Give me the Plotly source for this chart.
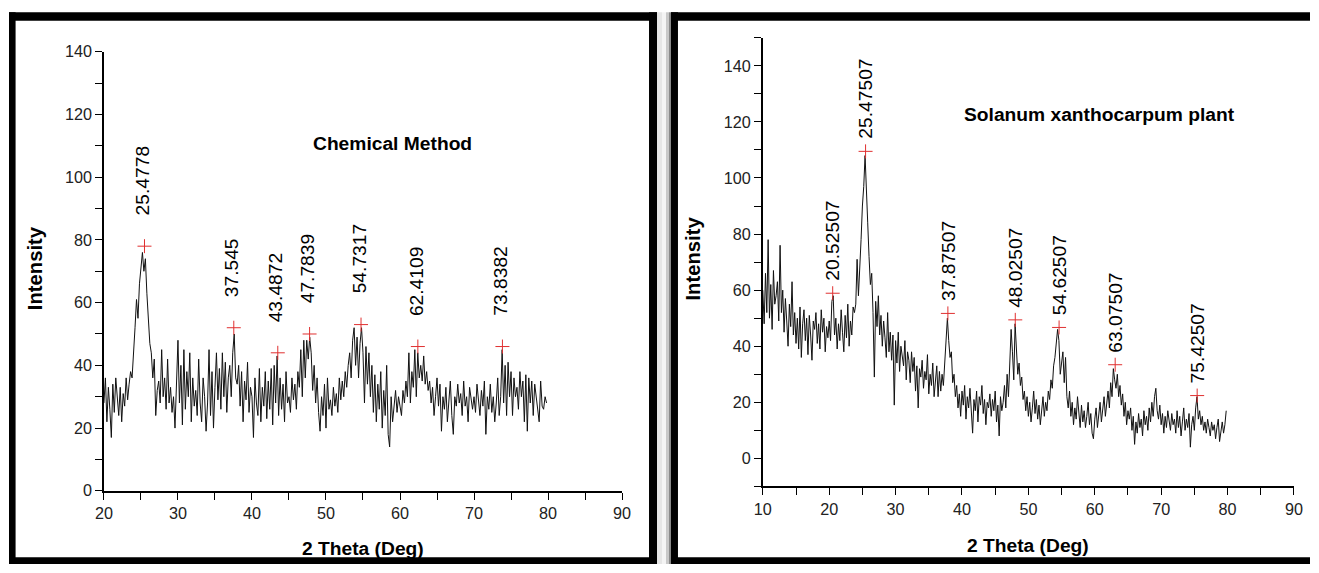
import numpy as np
import plotly.graph_objects as go

# Figure size; the photographed page maps figure pixels to picture pixels as
# pic = (fig + 8) * scale, so layout positions are given in picture pixels and converted.
W, H = 1319, 573
PAD = 8
SX, SY = 1319 / 1335, 573 / 589

# ---------------- data: Chemical Method (left) ----------------
theta_left_start = 20.0
theta_step = 0.2
intensity_left = [
    28, 36, 22, 33, 26, 17, 34, 25, 36, 28,
    24, 33, 22, 31, 27, 36, 29, 34, 38, 36,
    43, 52, 61, 55, 66, 72, 76, 70, 74, 63,
    55, 47, 44, 36, 42, 24, 32, 35, 28, 45,
    30, 36, 26, 42, 28, 33, 25, 30, 20, 34,
    48, 28, 40, 21, 45, 26, 38, 30, 44, 22,
    36, 27, 32, 24, 42, 28, 22, 36, 30, 19,
    28, 45, 24, 38, 20, 33, 44, 29, 39, 26,
    44, 30, 41, 25, 36, 40, 30, 44, 50, 36,
    34, 40, 27, 38, 22, 35, 29, 41, 25, 33,
    30, 17, 36, 28, 24, 39, 22, 33, 27, 38,
    23, 35, 26, 39, 21, 40, 28, 43, 24, 36,
    26, 34, 22, 38, 28, 30, 25, 36, 29, 34,
    26, 38, 33, 45, 30, 48, 36, 48, 42, 49,
    44, 32, 40, 28, 36, 25, 19, 30, 24, 34,
    20, 36, 26, 29, 24, 33, 27, 31, 25, 36,
    29, 35, 30, 38, 33, 40, 44, 36, 48, 52,
    40, 49, 36, 47, 52, 44, 28, 46, 34, 44,
    30, 40, 25, 37, 22, 34, 26, 38, 20, 32,
    24, 40, 18, 14, 30, 22, 28, 32, 25, 30,
    27, 24, 32, 28, 35, 30, 44, 28, 38, 33,
    45, 30, 44, 36, 40, 35, 43, 34, 38, 32,
    35, 28, 33, 24, 30, 36, 27, 34, 19, 30,
    26, 33, 22, 29, 35, 24, 18, 30, 27, 34,
    28, 31, 24, 35, 27, 30, 22, 33, 29, 26,
    30, 25, 34, 28, 24, 32, 27, 35, 18, 30,
    26, 34, 25, 30, 22, 28, 36, 24, 30, 45,
    28, 40, 24, 41, 30, 38, 24, 36, 30, 33,
    26, 38, 30, 35, 22, 37, 19, 36, 28, 35,
    24, 34, 30, 28, 22, 35, 27, 26, 30, 28,
]
peaks_left_pos = [25.4778, 37.545, 43.4872, 47.7839, 54.7317, 62.4109, 73.8382]
peaks_left_val = [78, 52, 44, 50, 53, 46, 46]
peaks_left_lbl = ["25.4778", "37.545", "43.4872", "47.7839", "54.7317", "62.4109", "73.8382"]

# ---------------- data: Solanum xanthocarpum plant (right) ----------------
theta_right_start = 10.0
intensity_right = [
    60, 48, 66, 52, 78, 50, 62, 46, 67, 55,
    58, 63, 49, 76, 52, 60, 45, 57, 49, 40,
    55, 47, 63, 44, 52, 41, 50, 39, 54, 36,
    48, 53, 42, 50, 37, 51, 44, 35, 49, 46,
    52, 41, 48, 39, 53, 45, 50, 38, 47, 43,
    49, 42, 56, 58, 44, 50, 39, 48, 42, 53,
    45, 38, 51, 43, 55, 40, 49, 44, 54, 52,
    55, 71, 58, 66, 78, 90, 97, 108, 92, 84,
    72, 62, 66, 52, 29, 56, 47, 58, 44, 51,
    40, 49, 43, 36, 52, 38, 45, 35, 44, 19,
    42, 34, 45, 31, 40, 36, 33, 42, 28, 38,
    35, 27, 38, 31, 36, 24, 33, 18, 32, 29,
    35, 25, 31, 28, 37, 23, 30, 26, 34, 22,
    28, 33, 22, 31, 24, 30, 26, 35, 45, 50,
    42, 36, 38, 27, 30, 22, 26, 18, 23, 15,
    24, 19, 26, 14, 22, 18, 25, 15, 9, 21,
    17, 24, 13, 22, 19, 26, 16, 21, 12, 20,
    18, 23, 15, 21, 17, 24, 13, 19, 8, 22,
    17, 20, 26, 18, 30, 22, 34, 46, 38, 28,
    48, 40, 30, 34, 26, 29, 21, 24, 17, 22,
    15, 20, 13, 18, 24, 16, 21, 14, 19, 12,
    18, 22, 15, 20, 17, 24, 21, 28, 25, 33,
    36, 40, 46, 42, 30, 34, 38, 27, 36, 22,
    18, 24, 15, 20, 12, 18, 14, 22, 16, 11,
    19, 13, 17, 11, 15, 20, 12, 16, 9, 7,
    14, 18, 11, 16, 20, 13, 18, 22, 15, 21,
    24, 18, 27, 22, 32, 28, 25, 30, 22, 26,
    19, 23, 15, 20, 12, 17, 14, 18, 10, 15,
    5, 13, 9, 16, 11, 14, 8, 17, 12, 15,
    10, 18, 13, 20, 15, 22, 25, 17, 14, 19,
    12, 16, 9, 15, 11, 17, 13, 10, 16, 12,
    14, 9, 17, 11, 15, 8, 13, 18, 10, 14,
    11, 16, 4, 12, 15, 10, 18, 22, 14, 17,
    12, 15, 10, 13, 9, 14, 11, 8, 13, 10,
    12, 7, 11, 14, 6, 10, 13, 9, 12, 17,
]
peaks_right_pos = [20.52507, 25.47507, 37.87507, 48.02507, 54.62507, 63.07507, 75.42507]
peaks_right_val = [58.9, 109.5, 51.7, 49.4, 46.7, 33.4, 22.4]
peaks_right_lbl = ["20.52507", "25.47507", "37.87507", "48.02507", "54.62507", "63.07507", "75.42507"]

title_left = "Chemical Method"
title_right = "Solanum xanthocarpum plant"
x_title = "2 Theta (Deg)"
y_title = "Intensity"

theta_left = theta_left_start + theta_step * np.arange(len(intensity_left))
theta_right = theta_right_start + theta_step * np.arange(len(intensity_right))

FONT = "Liberation Sans, Arial, sans-serif"
K = 1 / SX  # font compensation


def fx(x):
    # picture pixel -> figure pixel
    return x / SX - PAD


def fy(y):
    return y / SY - PAD


def px(x):
    return fx(x) / W


def py(y):
    return 1 - fy(y) / H


fig = go.Figure()

fig.add_trace(go.Scatter(x=theta_left, y=intensity_left, mode="lines",
                         line=dict(color="#111111", width=1), xaxis="x", yaxis="y",
                         showlegend=False, hoverinfo="skip"))
fig.add_trace(go.Scatter(x=peaks_left_pos, y=peaks_left_val, mode="markers",
                         marker=dict(symbol="cross-thin", size=10, line=dict(color="#e03030", width=1)),
                         xaxis="x", yaxis="y", showlegend=False))
fig.add_trace(go.Scatter(x=theta_right, y=intensity_right, mode="lines",
                         line=dict(color="#111111", width=1), xaxis="x2", yaxis="y2",
                         showlegend=False, hoverinfo="skip"))
fig.add_trace(go.Scatter(x=peaks_right_pos, y=peaks_right_val, mode="markers",
                         marker=dict(symbol="cross-thin", size=10, line=dict(color="#e03030", width=1)),
                         xaxis="x2", yaxis="y2", showlegend=False))

axis_common = dict(showgrid=False, zeroline=False, showline=True, linecolor="black", linewidth=1.5,
                   ticks="outside", ticklen=7, tickwidth=1.3, tickcolor="black",
                   tickfont=dict(family=FONT, size=16 * K, color="#222222"))
minor_common = dict(ticks="outside", ticklen=7, tickwidth=1.3, tickcolor="black")

fig.update_layout(
    width=W, height=H,
    margin=dict(l=0, r=0, t=0, b=0),
    paper_bgcolor="white", plot_bgcolor="white",
    xaxis=dict(domain=[px(103), px(622)], range=[20, 90], dtick=10, tick0=0, anchor="y",
               minor=dict(dtick=5, **minor_common), **axis_common),
    yaxis=dict(domain=[py(491.7), py(50.7)], range=[0, 140], dtick=20, tick0=0, anchor="x",
               minor=dict(dtick=10, **minor_common), **axis_common),
    xaxis2=dict(domain=[px(763), px(1295)], range=[10, 90], dtick=10, tick0=0, anchor="y2",
                minor=dict(dtick=5, **minor_common), **axis_common),
    yaxis2=dict(domain=[py(487.3), py(36.7)], range=[-10, 150], dtick=20, tick0=0, anchor="x2",
                minor=dict(dtick=10, **minor_common), **axis_common),
)

ann = []
for pos, val, lbl in zip(peaks_left_pos, peaks_left_val, peaks_left_lbl):
    ann.append(dict(x=pos, y=val, xref="x", yref="y", text=lbl, textangle=-90, showarrow=False,
                    xanchor="center", yanchor="bottom", yshift=28 / SY, xshift=-2,
                    font=dict(family=FONT, size=19 * K, color="black")))
for pos, val, lbl in zip(peaks_right_pos, peaks_right_val, peaks_right_lbl):
    ann.append(dict(x=pos, y=val, xref="x2", yref="y2", text=lbl, textangle=-90, showarrow=False,
                    xanchor="center", yanchor="bottom", yshift=10 / SY,
                    font=dict(family=FONT, size=19 * K, color="black")))

bold = dict(family=FONT, size=19 * K, color="black")
ann += [
    dict(x=59.05, y=110.7, xref="x", yref="y", text="<b>%s</b>" % title_left, showarrow=False,
         xanchor="center", yanchor="middle", font=bold),
    dict(x=60.7, y=122.7, xref="x2", yref="y2", text="<b>%s</b>" % title_right, showarrow=False,
         xanchor="center", yanchor="middle", font=bold),
    dict(x=px(362.5), y=py(550), xref="paper", yref="paper", text="<b>%s</b>" % x_title,
         showarrow=False, xanchor="center", yanchor="middle", font=bold),
    dict(x=px(1029), y=py(547), xref="paper", yref="paper", text="<b>%s</b>" % x_title,
         showarrow=False, xanchor="center", yanchor="middle", font=bold),
    dict(x=px(34), y=py(268), xref="paper", yref="paper", text="<b>%s</b>" % y_title, textangle=-90,
         showarrow=False, xanchor="center", yanchor="middle", font=dict(family=FONT, size=20 * K, color="black")),
    dict(x=px(693.5), y=py(258), xref="paper", yref="paper", text="<b>%s</b>" % y_title, textangle=-90,
         showarrow=False, xanchor="center", yanchor="middle", font=dict(family=FONT, size=20 * K, color="black")),
]
fig.update_layout(annotations=ann)


def rect(x0, y0, x1, y1, color):
    # picture-pixel box -> figure shape, clamped to the figure
    a0, a1 = max(fx(x0), 0), min(fx(x1), W)
    b0, b1 = max(fy(y0), 0), min(fy(y1), H)
    return dict(type="rect", xref="paper", yref="paper", x0=a0 / W, x1=a1 / W,
                y0=1 - b1 / H, y1=1 - b0 / H, fillcolor=color, line=dict(width=0), layer="above")


def rect_bottom(x0, x1, color):
    # bottom frame bar sits on the lowest pixels of the figure
    a0, a1 = max(fx(x0), 0), min(fx(x1), W)
    return dict(type="rect", xref="paper", yref="paper", x0=a0 / W, x1=a1 / W,
                y0=0, y1=7 / H, fillcolor=color, line=dict(width=0), layer="above")


shapes = [
    rect(657, 11, 662, 600, "#e6e6e6"),
    rect(662, 11, 666, 600, "#f4f4f4"),
    rect(666, 11, 669, 600, "#c8c8c8"),
    rect(669, 11, 671, 600, "#8a8a8a"),
    # left panel frame
    rect(6.5, 11, 14.5, 600, "black"),
    rect(6.5, 11, 657, 19.5, "black"),
    rect(649, 11, 657, 600, "black"),
    rect_bottom(6.5, 657, "black"),
    # right panel frame
    rect(671, 11, 678, 600, "black"),
    rect(671, 11, 1400, 19.5, "black"),
    rect_bottom(671, 1400, "black"),
]
fig.update_layout(shapes=shapes)

fig.write_html("out.html", config={"displayModeBar": False},
               post_script="document.body.style.margin='0';")
